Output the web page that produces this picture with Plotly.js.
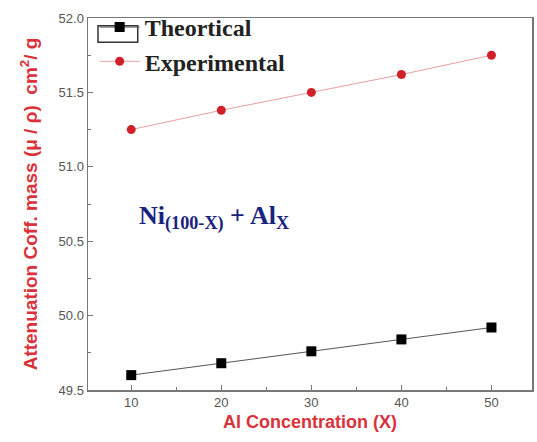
<!DOCTYPE html>
<html>
<head>
<meta charset="utf-8">
<script src="https://cdn.plot.ly/plotly-3.0.1.min.js"></script>
<style>html,body{margin:0;padding:0;background:#fff;}#chart{width:537px;height:442px;}</style>
</head>
<body>
<div id="chart"></div>
<script>
const concentration = [10, 20, 30, 40, 50];
const theoretical = [49.60, 49.68, 49.76, 49.84, 49.92];
const experimental = [51.25, 51.38, 51.50, 51.62, 51.75];
const xTicks = [10, 20, 30, 40, 50];
const yTicks = [49.5, 50.0, 50.5, 51.0, 51.5, 52.0];

const traces = [
  {
    x: concentration, y: theoretical, name: 'Theortical',
    mode: 'lines+markers', type: 'scatter',
    line: {color: '#555555', width: 1},
    marker: {symbol: 'square', size: 10, color: '#000000'}
  },
  {
    x: concentration, y: experimental, name: 'Experimental',
    mode: 'lines+markers', type: 'scatter',
    line: {color: '#e8a0a0', width: 1},
    marker: {symbol: 'circle', size: 9, color: '#d0202a'}
  }
];

const axisCommon = {
  showline: true, linecolor: '#777777', linewidth: 1.5, mirror: true,
  showgrid: false, zeroline: false,
  ticks: 'inside', ticklen: 5, tickcolor: '#777777',
  tickfont: {family: 'Liberation Sans, Arial', size: 13, color: '#555555'}
};

const layout = {
  width: 537, height: 442,
  margin: {l: 88, r: 5, t: 14, b: 52},
  paper_bgcolor: '#ffffff', plot_bgcolor: '#ffffff',
  showlegend: true,
  legend: {
    x: 0.015, y: 1.035, xanchor: 'left', yanchor: 'top',
    bgcolor: 'rgba(0,0,0,0)', borderwidth: 0,
    font: {family: 'Liberation Serif, Times New Roman', size: 24, color: '#222222', weight: 'bold'},
    tracegroupgap: 0, itemwidth: 40
  },
  shapes: [{
    type: 'rect', xref: 'paper', yref: 'paper',
    x0: 0.0225, x1: 0.112, y0: 0.935, y1: 0.979,
    line: {color: '#333333', width: 1.5}, fillcolor: 'rgba(0,0,0,0)'
  }],
  xaxis: Object.assign({}, axisCommon, {
    range: [5.2, 54.5],
    tickvals: xTicks, ticktext: xTicks.map(String),
    minor: {ticks: 'inside', ticklen: 3, dtick: 5, tick0: 5, tickcolor: '#777777'},
    title: {text: 'Al Concentration (X)', standoff: 6,
      font: {family: 'Liberation Sans, Arial', size: 18, color: '#d9323a', weight: 'bold'}}
  }),
  yaxis: Object.assign({}, axisCommon, {
    range: [49.5, 52.0],
    tickvals: yTicks, ticktext: yTicks.map(v => v.toFixed(1)),
    minor: {ticks: 'inside', ticklen: 3, dtick: 0.25, tick0: 49.5, tickcolor: '#777777'},
    title: {text: 'Attenuation Coff. mass (\u03bc / \u03c1)  cm<sup>2</sup>/ g', standoff: 16,
      font: {family: 'Liberation Sans, Arial', size: 19, color: '#d9323a', weight: 'bold'}}
  }),
  annotations: [{
    xref: 'x', yref: 'y', x: 19.2, y: 50.66, showarrow: false,
    text: 'Ni<sub>(100-X)</sub> + Al<sub>X</sub>',
    font: {family: 'Liberation Serif, Times New Roman', size: 26, color: '#1a237e', weight: 'bold'}
  }]
};

Plotly.newPlot('chart', traces, layout, {displayModeBar: false, staticPlot: true});
</script>
</body>
</html>
